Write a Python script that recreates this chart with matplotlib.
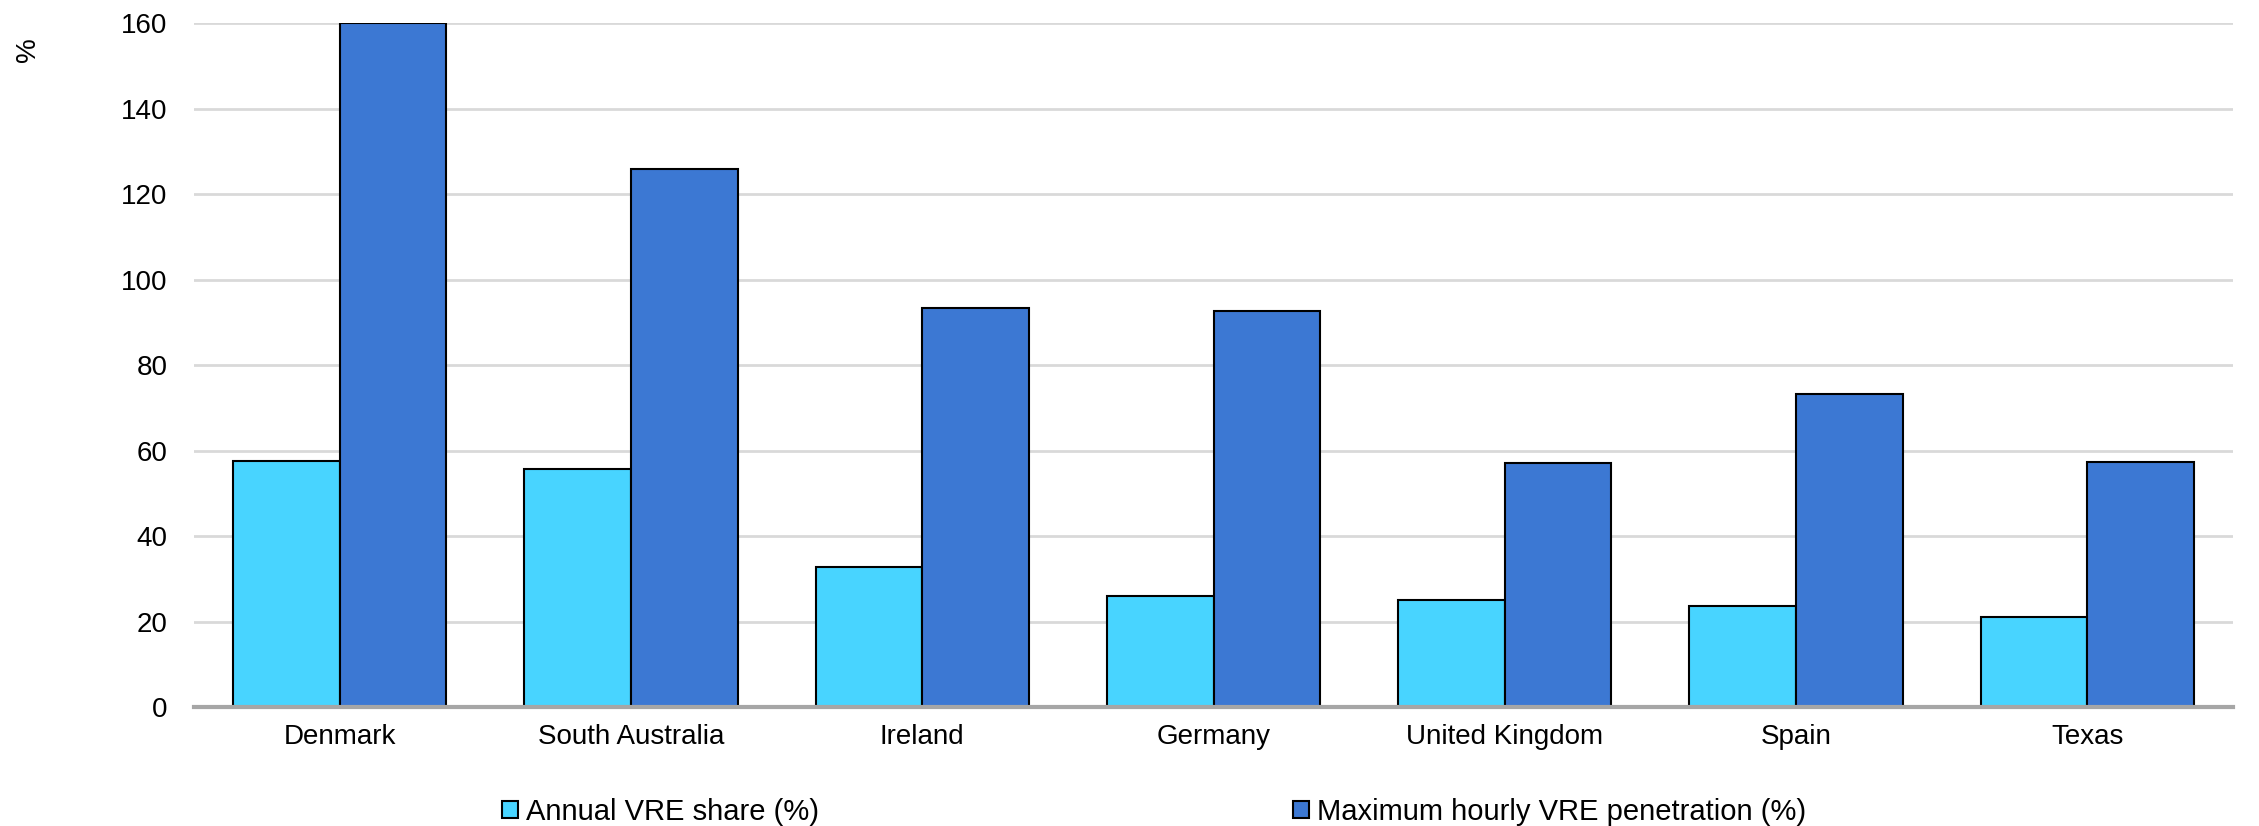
import numpy as np
import matplotlib
matplotlib.use("Agg")
import matplotlib.pyplot as plt

plt.rcParams['font.family'] = ['Liberation Sans', 'DejaVu Sans']

regions = ['Denmark', 'South Australia', 'Ireland', 'Germany',
           'United Kingdom', 'Spain', 'Texas']
annual_share = [57.6, 55.6, 32.8, 26.0, 25.0, 23.7, 21.1]
max_hourly = [160.0, 125.9, 93.3, 92.6, 57.1, 73.3, 57.4]
yticks = [0, 20, 40, 60, 80, 100, 120, 140, 160]

light = '#48D4FF'
dark = '#3C78D3'

fig = plt.figure(figsize=(22.59, 8.26), dpi=100)
ax = fig.add_axes([0.0859, 0.144, 0.9026, 0.828])

x = np.arange(len(regions))
w = 0.366
b1 = ax.bar(x - w / 2, annual_share, w, color=light, edgecolor='black', linewidth=1.5, zorder=3)
b2 = ax.bar(x + w / 2, max_hourly, w, color=dark, edgecolor='black', linewidth=1.5, zorder=3)

ax.set_xlim(-0.5, len(regions) - 0.5)
ax.set_ylim(0, 160)
ax.set_yticks(yticks)
ax.set_xticks(x)
ax.set_xticklabels(regions)
ax.tick_params(axis='both', length=0, labelsize=20)
ax.tick_params(axis='y', pad=19)
ax.tick_params(axis='x', pad=12)

ax.grid(axis='y', color='#d9d9d9', linewidth=2, zorder=0)
for s in ['top', 'right', 'left']:
    ax.spines[s].set_visible(False)
ax.spines['bottom'].set_color('#a6a6a6')
ax.spines['bottom'].set_linewidth(3)
ax.spines['bottom'].set_zorder(4)

fig.text(0.0125, 0.94, '%', rotation=90, fontsize=20, ha='center', va='center')

kw = dict(frameon=False, fontsize=21, borderpad=0, borderaxespad=0,
          handlelength=0.55, handleheight=0.55, handletextpad=0.25, loc='center left')
fig.legend([b1], ['Annual VRE share (%)'], bbox_to_anchor=(0.2223, 0.017), **kw)
fig.legend([b2], ['Maximum hourly VRE penetration (%)'], bbox_to_anchor=(0.5725, 0.017), **kw)

fig.savefig('out.png', dpi=100)
